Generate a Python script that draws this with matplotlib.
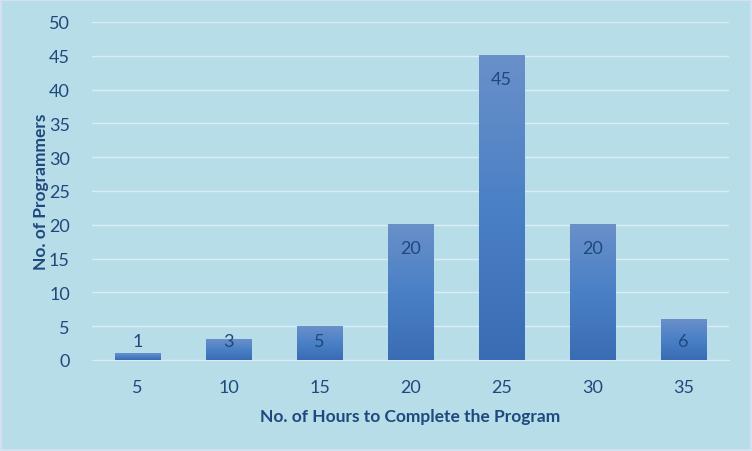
import matplotlib.pyplot as plt
import numpy as np
from matplotlib.colors import LinearSegmentedColormap

# data
hours = ['5', '10', '15', '20', '25', '30', '35']
programmers = [1, 3, 5, 20, 45, 20, 6]

bg = '#b7dde8'
txt = '#1f497d'
plt.rcParams['font.family'] = ['Lato', 'DejaVu Sans']

fig = plt.figure(figsize=(7.52, 4.52), dpi=100, facecolor=bg)
ax = fig.add_axes([92 / 752, 1 - 361 / 452, (729 - 92) / 752, (361 - 23) / 452])
ax.set_facecolor(bg)

x = np.arange(len(hours))
width = 0.5
bars = ax.bar(x, programmers, width, color='#4a7fc4', zorder=2)

# gradient fill on every bar (lighter at the top, darker at the bottom)
cmap = LinearSegmentedColormap.from_list('bar', ['#3a6cb3', '#4a80c6', '#6a90c9'])
grad = np.linspace(0, 1, 256).reshape(-1, 1)
for b in bars:
    x0, y0 = b.get_x(), b.get_y()
    ax.imshow(grad, cmap=cmap, origin='lower', aspect='auto', zorder=3,
              extent=(x0, x0 + b.get_width(), y0, y0 + b.get_height()))

# value labels near the top of each bar
for xi, v in zip(x, programmers):
    ax.text(xi, max(v - 3.4, 2.8), str(v), ha='center', va='center',
            fontsize=13, color=txt, zorder=4)

ax.set_xlim(-0.5, len(hours) - 0.5)
ax.set_ylim(0, 50)
ax.set_yticks(range(0, 51, 5))
ax.set_xticks(x)
ax.set_xticklabels(hours)
ax.grid(axis='y', color='#d8eef4', linewidth=1, zorder=1)
ax.set_axisbelow(True)
for s in ax.spines.values():
    s.set_visible(False)
ax.spines['bottom'].set_visible(True)
ax.spines['bottom'].set_color('#d8eef4')
ax.tick_params(length=0, labelsize=13, labelcolor=txt)
ax.tick_params(axis='x', pad=14)
ax.tick_params(axis='y', pad=16)

ax.set_xlabel('No. of Hours to Complete the Program', fontsize=12.5,
              fontweight='bold', color=txt, labelpad=9)
ax.set_ylabel('No. of Programmers', fontsize=12.5, fontweight='bold',
              color=txt, labelpad=0)

# thin outer border
fig.patches.append(plt.Rectangle((0, 0), 1, 1, transform=fig.transFigure,
                                 fill=False, edgecolor='#d3e0f2', linewidth=3))

fig.savefig('out.png', dpi=100, facecolor=bg)
